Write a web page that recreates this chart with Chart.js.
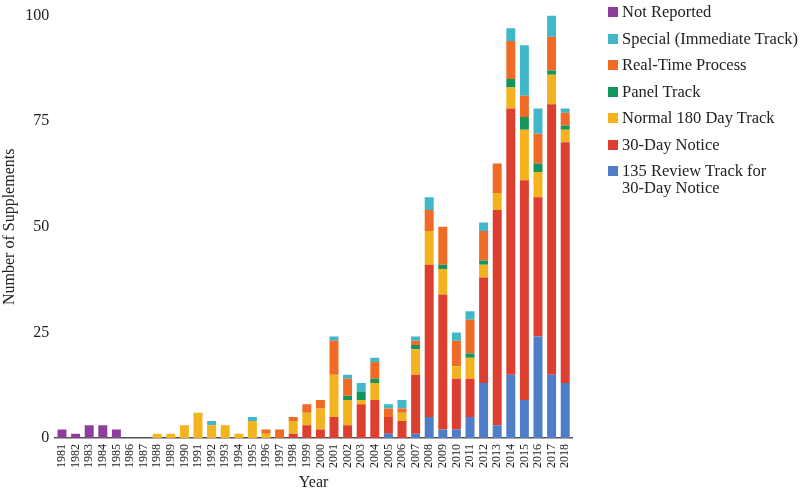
<!DOCTYPE html>
<html>
<head>
<meta charset="utf-8">
<script src="https://cdn.jsdelivr.net/npm/chart.js@4"></script>
<style>
  body { margin: 0; background: #fff; }
  #wrap { position: relative; width: 800px; height: 489px; }
  #legend { position: absolute; left: 608px; top: 3px; font-family: "Liberation Serif", serif; font-size: 16.5px; color: #222; }
  .item { position: absolute; left: 0; white-space: nowrap; line-height: 17px; }
  .box { position: absolute; left: 0; top: 4px; width: 10px; height: 10px; }
  .txt { position: absolute; left: 14px; top: 0; }
</style>
</head>
<body>
<div id="wrap">
  <canvas id="chart" width="800" height="489"></canvas>
  <div id="legend"></div>
</div>
<script>
const years = [];
for (let y = 1981; y <= 2018; y++) years.push(String(y));

// values per year, 1981 .. 2018
const review135   = [0,0,0,0,0,0,0,0,0,0, 0,0,0,0,0,0,0,0,0,0, 0,0,0,0,1,0,1,5,2,2, 5,13,3,15,9,24,15,13];
const thirtyDay   = [0,0,0,0,0,0,0,0,0,0, 0,0,0,0,0,0,0,1,3,2, 5,3,8,9,4,4,14,36,32,12, 9,25,51,63,52,33,64,57];
const normal180   = [0,0,0,0,0,0,0,1,1,3, 6,3,3,1,4,1,0,3,3,5, 10,6,1,4,0,2,6,8,6,3, 5,3,4,5,12,6,7,3];
const panelTrack  = [0,0,0,0,0,0,0,0,0,0, 0,0,0,0,0,0,0,0,0,0, 0,1,2,1,0,0,1,0,1,0, 1,1,0,2,3,2,1,1];
const realTime    = [0,0,0,0,0,0,0,0,0,0, 0,0,0,0,0,1,2,1,2,2, 8,4,0,4,2,1,1,5,9,6, 8,7,7,9,5,7,8,3];
const special     = [0,0,0,0,0,0,0,0,0,0, 0,1,0,0,1,0,0,0,0,0, 1,1,2,1,1,2,1,3,0,2, 2,2,0,3,12,6,5,1];
const notReported = [2,1,3,3,2,0,0,0,0,0, 0,0,0,0,0,0,0,0,0,0, 0,0,0,0,0,0,0,0,0,0, 0,0,0,0,0,0,0,0];

const yTicks = [0, 25, 50, 75, 100];

// bottom to top
const series = [
  { label: ['135 Review Track for', '30-Day Notice'], data: review135, color: '#4f7ec8' },
  { label: ['30-Day Notice'], data: thirtyDay, color: '#dc3f30' },
  { label: ['Normal 180 Day Track'], data: normal180, color: '#f2b31f' },
  { label: ['Panel Track'], data: panelTrack, color: '#14955b' },
  { label: ['Real-Time Process'], data: realTime, color: '#ef6b26' },
  { label: ['Special (Immediate Track)'], data: special, color: '#40b8c9' },
  { label: ['Not Reported'], data: notReported, color: '#8b3f9b' }
];

const serif = '"Liberation Serif", serif';

const ctx = document.getElementById('chart').getContext('2d');
const chart = new Chart(ctx, {
    type: 'bar',
    data: {
        labels: years,
        datasets: series.map(s => ({
            label: s.label.join(' '),
            data: s.data,
            backgroundColor: s.color,
            borderWidth: 0,
            categoryPercentage: 1,
            barPercentage: 0.66
        }))
    },
    options: {
        responsive: false,
        animation: false,
        layout: { padding: { left: 0, right: 228, top: 0, bottom: 0 } },
        plugins: { legend: { display: false }, tooltip: { enabled: false } },
        scales: {
            x: {
                stacked: true,
                grid: { display: false, drawTicks: false },
                border: { display: true, color: '#555', width: 1.5 },
                ticks: {
                    autoSkip: false,
                    minRotation: 90,
                    maxRotation: 90,
                    padding: 6,
                    color: '#222',
                    font: { family: serif, size: 12 }
                },
                title: {
                    display: true,
                    text: 'Year',
                    color: '#222',
                    padding: { top: 3, bottom: 0 },
                    font: { family: serif, size: 16, lineHeight: 0.75 }
                }
            },
            y: {
                stacked: true,
                min: 0,
                max: 100,
                afterBuildTicks: axis => { axis.ticks = yTicks.map(v => ({ value: v })); },
                grid: { display: false, drawTicks: false },
                border: { display: false },
                ticks: {
                    padding: 6,
                    color: '#222',
                    font: { family: serif, size: 16 }
                },
                title: {
                    display: true,
                    text: 'Number of Supplements',
                    color: '#222',
                    padding: { top: 0, bottom: 0 },
                    font: { family: serif, size: 16 }
                }
            }
        }
    }
});

// legend, top item = last stacked series
const legendBox = document.getElementById('legend');
let itemTop = 0;
series.slice().reverse().forEach(s => {
    const item = document.createElement('div');
    item.className = 'item';
    item.style.top = itemTop + 'px';
    item.innerHTML = '<span class="box" style="background:' + s.color + '"></span>' +
        '<span class="txt">' + s.label.join('<br>') + '</span>';
    legendBox.appendChild(item);
    itemTop += 26.5;
});
</script>
</body>
</html>
